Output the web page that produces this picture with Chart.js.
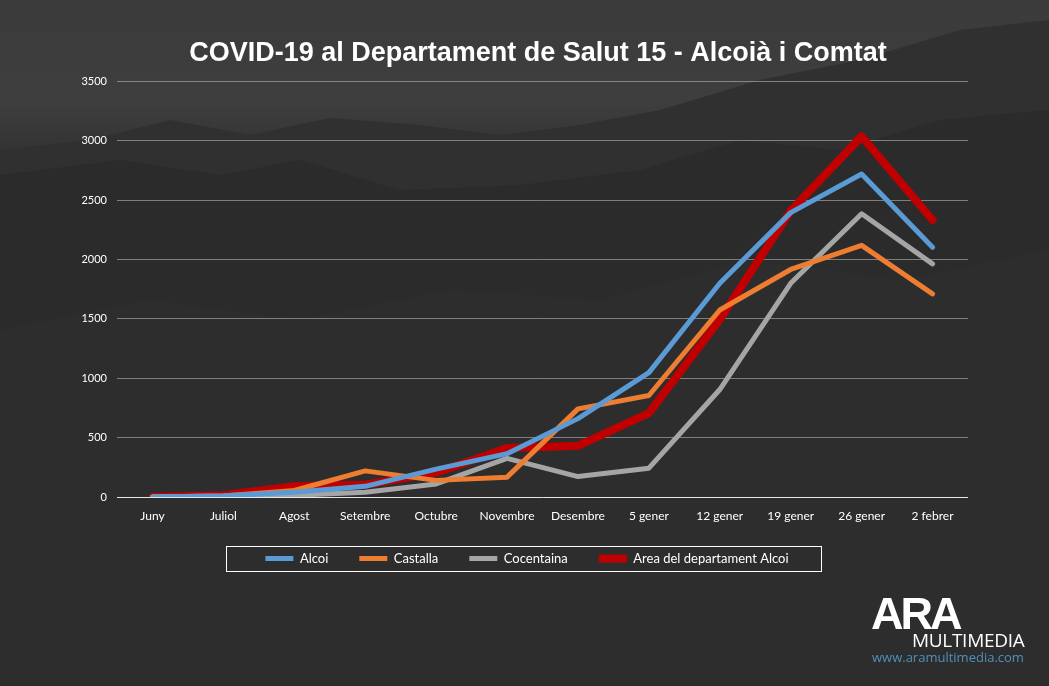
<!DOCTYPE html>
<html>
<head>
<meta charset="utf-8">
<script src="https://cdn.jsdelivr.net/npm/chart.js@4/dist/chart.umd.min.js"></script>
<style>
  html, body { margin: 0; padding: 0; }
  body {
    width: 1049px; height: 686px; overflow: hidden; position: relative;
    background: linear-gradient(180deg, #3b3b3b 0%, #3e3e3e 15%, #333 22%, #2c2c2c 35%, #2f2f2f 60%, #2a2a2a 100%);
  }
  #bg { position: absolute; left: 0; top: 0; }
  #wrap { position: absolute; left: 0; top: 0; width: 1049px; height: 686px; }
  .logo { position: absolute; color: #fff; white-space: nowrap; }
  #ara { left: 871px; top: 588px; font: bold 45px "Liberation Sans", Arial, sans-serif; letter-spacing: -3px; }
  #multi { left: 912px; top: 627px; font: 19px "Open Sans", sans-serif; letter-spacing: -0.3px; }
  #www { left: 872px; top: 648px; font: 13px "Open Sans", sans-serif; color: #4f90bb; }
</style>
</head>
<body>
<svg id="bg" width="1049" height="686">
  <path d="M0 150 L90 140 L170 120 L250 135 L330 118 L420 125 L500 135 L580 125 L660 110 L760 80 L860 60 L960 30 L1049 20 L1049 686 L0 686 Z" fill="#303030"/>
  <path d="M0 175 L120 160 L220 175 L300 160 L400 190 L520 185 L640 170 L740 140 L840 150 L940 120 L1049 110 L1049 686 L0 686 Z" fill="#2b2b2b"/>
  <path d="M0 330 L150 300 L300 320 L450 290 L600 300 L750 260 L900 280 L1049 250 L1049 686 L0 686 Z" fill="#2e2e2e" opacity="0.8"/>
</svg>
<div id="wrap"><canvas id="covidChart"></canvas></div>
<div class="logo" id="ara">ARA</div>
<div class="logo" id="multi">MULTIMEDIA</div>
<div class="logo" id="www">www.aramultimedia.com</div>
<script>
const labels = ['Juny', 'Juliol', 'Agost', 'Setembre', 'Octubre', 'Novembre', 'Desembre', '5 gener', '12 gener', '19 gener', '26 gener', '2 febrer'];
const alcoi = [0, 10, 40, 90, 235, 365, 660, 1047, 1800, 2395, 2720, 2103];
const castalla = [0, 8, 55, 220, 140, 167, 742, 855, 1575, 1916, 2119, 1711];
const cocentaina = [0, 5, 14, 40, 110, 325, 172, 243, 905, 1800, 2385, 1963];
const area = [0, 15, 90, 103, 205, 412, 431, 707, 1495, 2410, 3037, 2333];
const yTicks = [0, 500, 1000, 1500, 2000, 2500, 3000, 3500];

Chart.defaults.font.family = 'Lato, "Open Sans", sans-serif';
Chart.defaults.color = '#ffffff';

// nudge title and legend to where the original has them
const nudge = {
	id: 'nudge',
	afterLayout(chart) {
		chart.titleBlock.left += 24;
		chart.titleBlock.right += 24;
		chart.legend.top -= 3;
		chart.legend.bottom -= 3;
		chart.legend.left += 13;
		chart.legend.right += 13;
	}
};

const legendBox = {
	id: 'legendBox',
	afterDraw(chart) {
		const boxes = chart.legend.legendHitBoxes;
		if (!boxes || !boxes.length) return;
		const first = boxes[0], last = boxes[boxes.length - 1];
		const ctx = chart.ctx;
		ctx.save();
		ctx.strokeStyle = '#ffffff';
		ctx.lineWidth = 1;
		const left = Math.round(first.left - 39) + 0.5;
		const right = Math.round(last.left + last.width + 32) + 0.5;
		const top = Math.round(first.top + first.height / 2 - 13) + 0.5;
		ctx.strokeRect(left, top, right - left, 25);
		ctx.restore();
	}
};

function series(label, data, color, width) {
	return {
		label: label,
		data: data,
		borderColor: color,
		backgroundColor: color,
		borderWidth: width,
		pointRadius: 0,
		pointStyle: 'line',
		tension: 0,
		borderCapStyle: 'round',
		borderJoinStyle: 'round'
	};
}

new Chart(document.getElementById('covidChart'), {
	type: 'line',
	data: {
		labels: labels,
		datasets: [
			series('Alcoi', alcoi, '#5b9bd5', 5),
			series('Castalla', castalla, '#ed7d31', 5),
			series('Cocentaina', cocentaina, '#a5a5a5', 5),
			series('Area del departament Alcoi', area, '#c00000', 8)
		]
	},
	options: {
		responsive: true,
		maintainAspectRatio: false,
		animation: false,
		layout: { padding: { left: 60, right: 81, top: 25, bottom: 108 } },
		plugins: {
			title: {
				display: true,
				text: 'COVID-19 al Departament de Salut 15 - Alcoià i Comtat',
				color: '#ffffff',
				font: { family: '"Liberation Sans", Arial, sans-serif', size: 27, weight: 'bold' },
				padding: { top: 12, bottom: 12 }
			},
			legend: {
				position: 'bottom',
				labels: {
					usePointStyle: true,
					pointStyleWidth: 28,
					boxHeight: 5,
					padding: 31,
					color: '#ffffff',
					font: { size: 13 }
				}
			},
			tooltip: { enabled: false }
		},
		scales: {
			x: {
				offset: true,
				afterFit(scale) { scale.height = 27; },
				grid: { display: false, drawTicks: false },
				border: { display: false },
				ticks: { color: '#ffffff', font: { size: 12 }, padding: 12, maxRotation: 0 }
			},
			y: {
				min: 0,
				max: 3500,
				afterFit(scale) { scale.width = 57; },
				afterBuildTicks(scale) { scale.ticks = yTicks.map(v => ({ value: v })); },
				grid: {
					drawTicks: false,
					color: ctx => ctx.tick && ctx.tick.value === 0 ? '#e6e6e6' : 'rgba(210,210,210,0.5)',
					lineWidth: 1
				},
				border: { display: false },
				ticks: { color: '#ffffff', font: { size: 11 }, padding: 10, callback: v => String(v) }
			}
		}
	},
	plugins: [nudge, legendBox]
});
</script>
</body>
</html>
